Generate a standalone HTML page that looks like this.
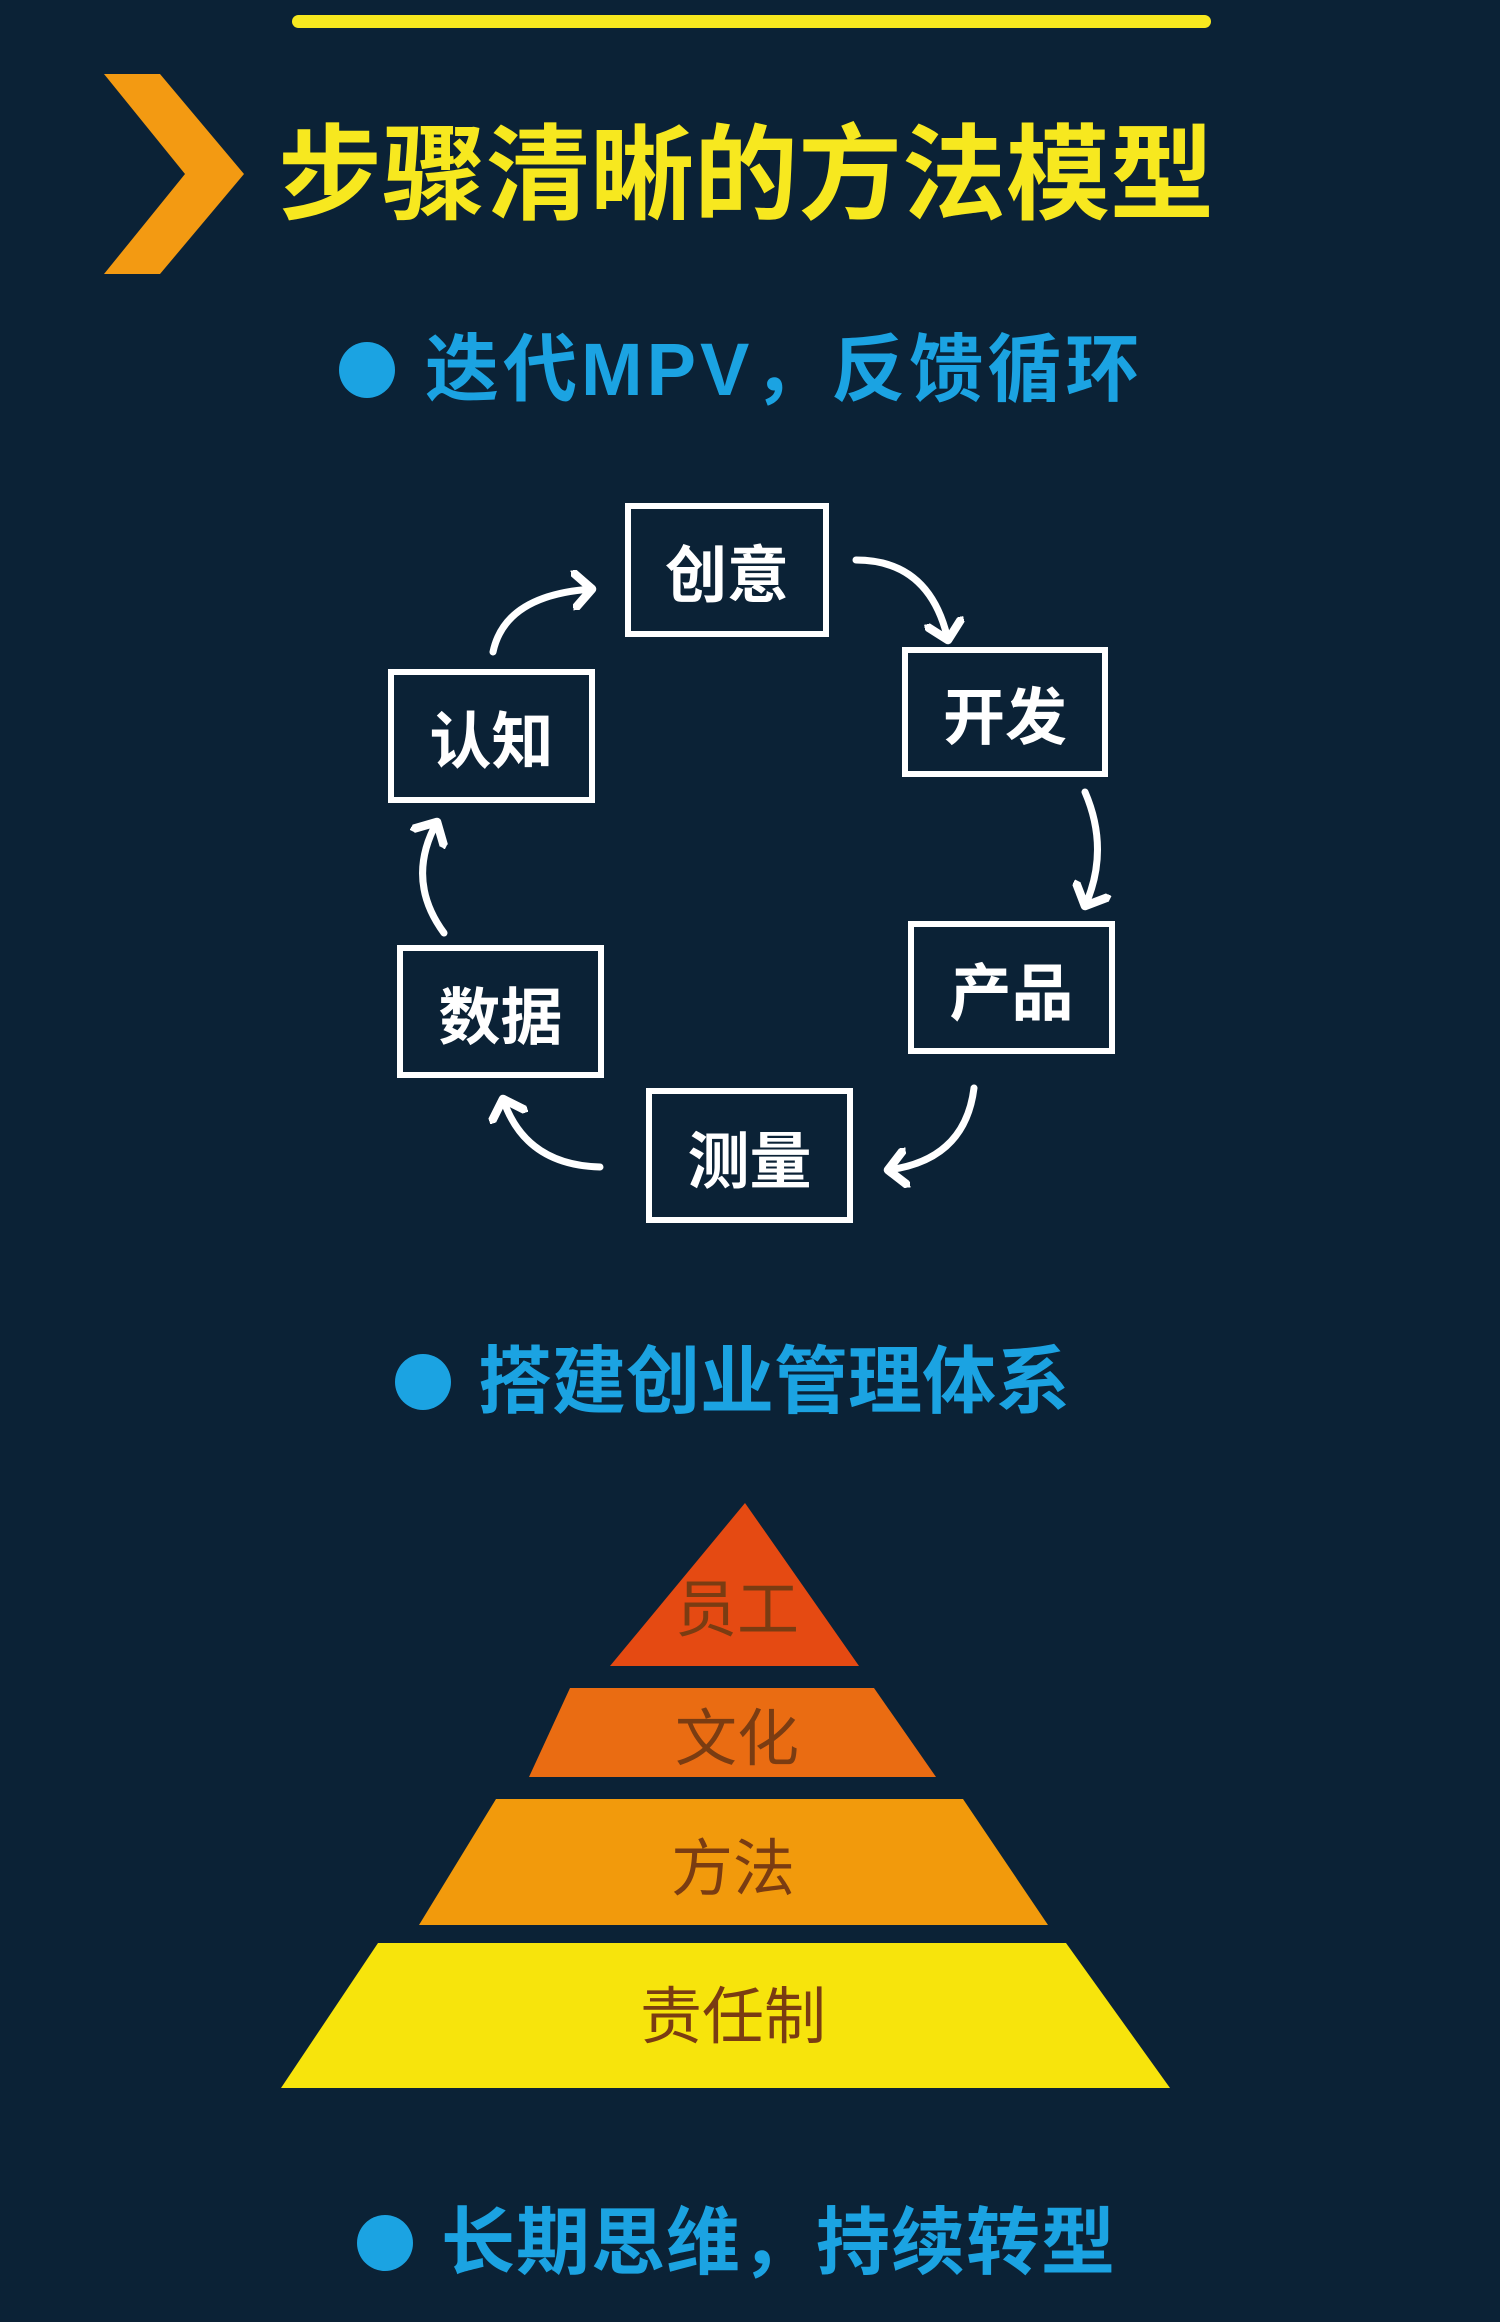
<!DOCTYPE html>
<html><head><meta charset="utf-8"><style>
html,body{margin:0;padding:0;background:#0b2236;}
body{width:1500px;height:2322px;position:relative;overflow:hidden;font-family:"Liberation Sans","Noto Sans CJK SC",sans-serif;}
.t{position:absolute;white-space:nowrap;font-weight:bold;line-height:1;}
.h{color:#1ba3e2;font-size:74px;}
.dot{position:absolute;width:56px;height:56px;border-radius:50%;background:#1ba3e2;}
.box{position:absolute;border:6px solid #fff;box-sizing:border-box;color:#fff;font-size:62px;display:flex;align-items:center;justify-content:center;font-weight:bold;}
.p{position:absolute;color:#7a3c12;font-size:62px;transform:translate(-50%,-50%);white-space:nowrap;}
</style></head><body>
<div style="position:absolute;left:292px;top:15px;width:919px;height:13px;border-radius:7px;background:#f7e81f"></div>
<svg style="position:absolute;left:0;top:0" width="1500" height="2322">
<polygon points="104,74 160,74 244,174 160,274 104,274 185,174" fill="#f39a12"/>
<defs><marker id="a" markerWidth="40" markerHeight="40" refX="14" refY="14" orient="auto" markerUnits="userSpaceOnUse" viewBox="0 0 28 28"><path d="M2,2 L14,14 L2,26" fill="none" stroke="#fff" stroke-width="6" stroke-linecap="round" stroke-linejoin="round"/></marker></defs>
<g fill="none" stroke="#fff" stroke-width="7" stroke-linecap="round">
<path d="M493,652 Q505,595 592,589" marker-end="url(#a)" />
<path d="M856,560 Q930,560 948,640" marker-end="url(#a)"/>
<path d="M1085,792 Q1110,850 1085,906" marker-end="url(#a)"/>
<path d="M974,1088 Q965,1160 888,1170" marker-end="url(#a)"/>
<path d="M600,1167 Q525,1165 503,1099" marker-end="url(#a)"/>
<path d="M444,933 Q405,880 437,822" marker-end="url(#a)"/>
</g>
<polygon points="745,1503 610,1666 859,1666" fill="#e54a12"/>
<polygon points="570,1688 874,1688 936,1777 529,1777" fill="#ea6c12"/>
<polygon points="496,1799 963,1799 1048,1925 419,1925" fill="#f29a0c"/>
<polygon points="378,1943 1066,1943 1170,2088 281,2088" fill="#f7e40c"/>
</svg>
<div class="t" style="left:278px;top:124px;font-size:104px;color:#f7e81f">步骤清晰的方法模型</div>
<div class="dot" style="left:339px;top:342px"></div>
<div class="t h" style="left:425px;top:333px;letter-spacing:4px">迭代MPV，反馈循环</div>
<div class="box" style="left:625px;top:503px;width:204px;height:134px">创意</div>
<div class="box" style="left:902px;top:647px;width:206px;height:130px">开发</div>
<div class="box" style="left:908px;top:921px;width:207px;height:133px">产品</div>
<div class="box" style="left:646px;top:1088px;width:207px;height:135px">测量</div>
<div class="box" style="left:397px;top:945px;width:207px;height:133px">数据</div>
<div class="box" style="left:388px;top:669px;width:207px;height:134px">认知</div>
<div class="dot" style="left:395px;top:1354px"></div>
<div class="t h" style="left:478px;top:1345px">搭建创业管理体系</div>
<div class="p" style="left:737px;top:1604px">员工</div>
<div class="p" style="left:737px;top:1733px">文化</div>
<div class="p" style="left:733px;top:1863px">方法</div>
<div class="p" style="left:733px;top:2011px">责任制</div>
<div class="dot" style="left:357px;top:2215px"></div>
<div class="t h" style="left:441px;top:2206px;letter-spacing:1px">长期思维，持续转型</div>
</body></html>
